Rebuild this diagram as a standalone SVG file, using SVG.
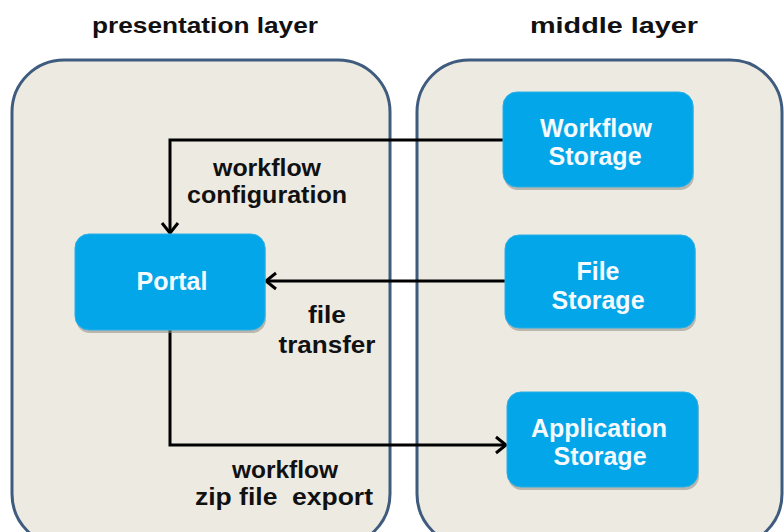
<svg xmlns="http://www.w3.org/2000/svg" width="784" height="532" viewBox="0 0 784 532">
<style>
.layer{fill:#EDEAE2;stroke:#3F5B7E;stroke-width:3}
.title{font-family:"Liberation Sans",Arial,sans-serif;font-weight:bold;font-size:22px;fill:#111}
.lbl{font-family:"Liberation Sans",Arial,sans-serif;font-weight:bold;font-size:23px;fill:#111;text-anchor:middle}
.box{fill:#03A6E8;stroke:#2BB0E6;stroke-width:1}
.shadow{fill:#8E8A84;opacity:0.55}
.ntxt{font-family:"Liberation Sans",Arial,sans-serif;font-weight:bold;font-size:25px;fill:#F4FAFD;text-anchor:middle}
.conn{fill:none;stroke:#000;stroke-width:3}
</style>
<defs>
<marker id="arr" markerUnits="userSpaceOnUse" markerWidth="16" markerHeight="22" viewBox="0 0 16 22" refX="13" refY="11" orient="auto">
<path d="M3,3 L13,11 L3,19" fill="none" stroke="#000" stroke-width="3"/>
</marker>
</defs>
<rect width="784" height="532" fill="#fff"/>
<g id="presentation-layer">
<rect class="layer" x="12" y="60" width="378" height="486" rx="52" ry="52"/>
<text class="title" x="92" y="33" textLength="226" lengthAdjust="spacingAndGlyphs">presentation layer</text>
</g>
<g id="middle-layer">
<rect class="layer" x="417" y="60" width="365" height="486" rx="52" ry="52"/>
<text class="title" x="530" y="33" textLength="168" lengthAdjust="spacingAndGlyphs">middle layer</text>
</g>
<g id="connectors">
<path class="conn" d="M503,140 H170 V233" marker-end="url(#arr)"/>
<path class="conn" d="M505,281 H266" marker-end="url(#arr)"/>
<path class="conn" d="M170,330 V445 H506" marker-end="url(#arr)"/>
<text class="lbl" x="267" y="176" textLength="108" lengthAdjust="spacingAndGlyphs">workflow</text>
<text class="lbl" x="267" y="203" textLength="160" lengthAdjust="spacingAndGlyphs">configuration</text>
<text class="lbl" x="327" y="323" textLength="38" lengthAdjust="spacingAndGlyphs">file</text>
<text class="lbl" x="327" y="353" textLength="97" lengthAdjust="spacingAndGlyphs">transfer</text>
<text class="lbl" x="285" y="478" textLength="106" lengthAdjust="spacingAndGlyphs">workflow</text>
<text class="lbl" x="284" y="505" textLength="178" lengthAdjust="spacingAndGlyphs" xml:space="preserve">zip file  export</text>
</g>
<g id="portal">
<rect class="shadow" x="76" y="237" width="190" height="96" rx="14"/>
<rect class="box" x="75" y="234" width="190" height="96" rx="14"/>
<text class="ntxt" x="172" y="290">Portal</text>
</g>
<g id="workflow-storage">
<rect class="shadow" x="504" y="95" width="190" height="95" rx="14"/>
<rect class="box" x="503" y="92" width="190" height="95" rx="14"/>
<text class="ntxt" x="596" y="137">Workflow</text>
<text class="ntxt" x="595" y="165">Storage</text>
</g>
<g id="file-storage">
<rect class="shadow" x="506" y="238" width="190" height="93" rx="14"/>
<rect class="box" x="505" y="235" width="190" height="93" rx="14"/>
<text class="ntxt" x="598" y="280">File</text>
<text class="ntxt" x="598" y="309">Storage</text>
</g>
<g id="application-storage">
<rect class="shadow" x="508" y="395" width="191" height="95" rx="14"/>
<rect class="box" x="507" y="392" width="191" height="95" rx="14"/>
<text class="ntxt" x="599" y="437">Application</text>
<text class="ntxt" x="600" y="465">Storage</text>
</g>
</svg>
